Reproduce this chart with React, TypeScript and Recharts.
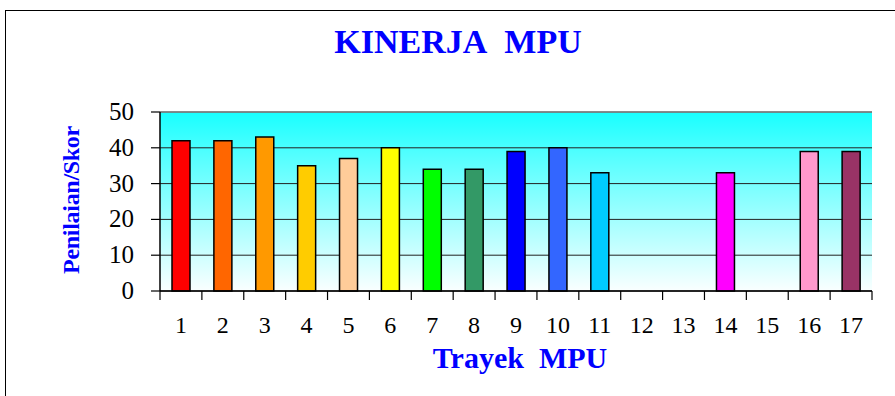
import { BarChart, Bar, XAxis, YAxis, CartesianGrid, Cell, ReferenceLine } from "recharts";

// Trayek MPU 1..17, scores (null = no bar)
const trayek = ["1", "2", "3", "4", "5", "6", "7", "8", "9", "10", "11", "12", "13", "14", "15", "16", "17"];
const skor = [42, 42, 43, 35, 37, 40, 34, 34, 39, 40, 33, null, null, 33, null, 39, 39];
const barColors = [
    "#FF0000", "#FF6600", "#FF9900", "#FFCC00", "#FFCC99", "#FFFF00", "#00FF00", "#339966",
    "#0000FF", "#3366FF", "#00CCFF", "#FFFFFF", "#FFFFFF", "#FF00FF", "#FFFFFF", "#FF99CC", "#993366",
];
const yTicks = [0, 10, 20, 30, 40, 50];

const data = trayek.map((t, i) => ({ trayek: t, skor: skor[i] }));

const serif = "Liberation Serif, Times New Roman, serif";

const CHART_W = 895;
const CHART_H = 396;
const MARGIN = { top: 112, right: 23, bottom: 75, left: 100 };
const Y_AXIS_W = 60;
const PLOT_W = CHART_W - MARGIN.left - MARGIN.right - Y_AXIS_W;
const BAND = PLOT_W / trayek.length;
const X_TICK_SIZE = 6;
const Y_TICK_SIZE = 9;
const Y_TICK_MARGIN = 15;

// category label plus the boundary tick marks that Excel puts between categories
function XTick({ x, y, payload, index }: any) {
    const axisY = y - X_TICK_SIZE;
    const left = x - BAND / 2;
    const right = x + BAND / 2;
    return (
        <g>
            <line x1={left} x2={left} y1={axisY} y2={axisY + 9} stroke="#000" strokeWidth={1.2} />
            {index === trayek.length - 1 && (
                <line x1={right} x2={right} y1={axisY} y2={axisY + 9} stroke="#000" strokeWidth={1.2} />
            )}
            <text x={x} y={y + 36} textAnchor="middle" style={{ fontFamily: serif, fontSize: 24, fill: "#000" }}>
                {payload.value}
            </text>
        </g>
    );
}

function YTick({ x, y, payload }: any) {
    const axisX = x + Y_TICK_SIZE + Y_TICK_MARGIN;
    return (
        <g>
            <line x1={axisX - Y_TICK_SIZE} x2={axisX} y1={y} y2={y} stroke="#000" strokeWidth={1.2} />
            <text x={x - 2} y={y + 8} textAnchor="end" style={{ fontFamily: serif, fontSize: 25, fill: "#000" }}>
                {payload.value}
            </text>
        </g>
    );
}

export default function App() {
    return (
        <div style={styles.page}>
            <div style={styles.frame} />
            <div style={styles.title}>KINERJA&nbsp;&nbsp;MPU</div>
            <div style={styles.xTitle}>Trayek&nbsp;&nbsp;MPU</div>
            <div style={styles.yTitle}>Penilaian/Skor</div>
            <BarChart
                width={CHART_W}
                height={CHART_H}
                data={data}
                margin={MARGIN}
                style={{ position: "absolute", left: 0, top: 0, fontFamily: serif }}
            >
                <defs>
                    <linearGradient id="plotBg" x1="0" y1="0" x2="0" y2="1">
                        <stop offset="0%" stopColor="#18FFFF" />
                        <stop offset="25%" stopColor="#55FFFF" />
                        <stop offset="100%" stopColor="#FAFFFF" />
                    </linearGradient>
                </defs>
                <CartesianGrid
                    vertical={false}
                    stroke="#222"
                    strokeWidth={1}
                    fill="url(#plotBg)"
                    fillOpacity={1}
                />
                <XAxis
                    dataKey="trayek"
                    height={30}
                    interval={0}
                    tickSize={X_TICK_SIZE}
                    tickLine={false}
                    axisLine={{ stroke: "#000", strokeWidth: 1.5 }}
                    tickMargin={0}
                    tick={<XTick />}
                />
                <YAxis
                    domain={[0, 50]}
                    ticks={yTicks}
                    interval={0}
                    width={Y_AXIS_W}
                    tickSize={Y_TICK_SIZE}
                    tickMargin={Y_TICK_MARGIN}
                    tickLine={false}
                    axisLine={{ stroke: "#000", strokeWidth: 1.5 }}
                    tick={<YTick />}
                />
                {/* grey right edge of the plot area */}
                <YAxis
                    yAxisId="edge"
                    orientation="right"
                    domain={[0, 50]}
                    width={0}
                    tick={false}
                    tickLine={false}
                    axisLine={{ stroke: "#888", strokeWidth: 1.5 }}
                />
                <ReferenceLine y={50} stroke="#888" strokeWidth={1.5} />
                <Bar
                    dataKey="skor"
                    barSize={18}
                    stroke="#000"
                    strokeWidth={1.5}
                    isAnimationActive={false}
                >
                    {data.map((d, i) => (
                        <Cell key={d.trayek} fill={barColors[i]} />
                    ))}
                </Bar>
            </BarChart>
        </div>
    );
}

const styles: Record<string, React.CSSProperties> = {
    page: {
        position: "fixed",
        left: 0,
        top: 0,
        width: 895,
        height: 396,
        background: "#fff",
        overflow: "hidden",
        fontFamily: serif,
    },
    frame: {
        position: "absolute",
        left: 5,
        top: 10,
        width: 900,
        height: 400,
        border: "1.5px solid #000",
    },
    title: {
        position: "absolute",
        left: 0,
        width: 916,
        top: 23,
        textAlign: "center",
        color: "#0000FF",
        fontWeight: "bold",
        fontSize: 34,
        lineHeight: "38px",
    },
    xTitle: {
        position: "absolute",
        left: 0,
        width: 1040,
        top: 341,
        textAlign: "center",
        color: "#0000FF",
        fontWeight: "bold",
        fontSize: 30,
        lineHeight: "34px",
    },
    yTitle: {
        position: "absolute",
        left: 71,
        top: 200,
        transform: "translate(-50%, -50%) rotate(-90deg)",
        whiteSpace: "nowrap",
        color: "#0000FF",
        fontWeight: "bold",
        fontSize: 24,
        letterSpacing: -0.3,
    },
};
